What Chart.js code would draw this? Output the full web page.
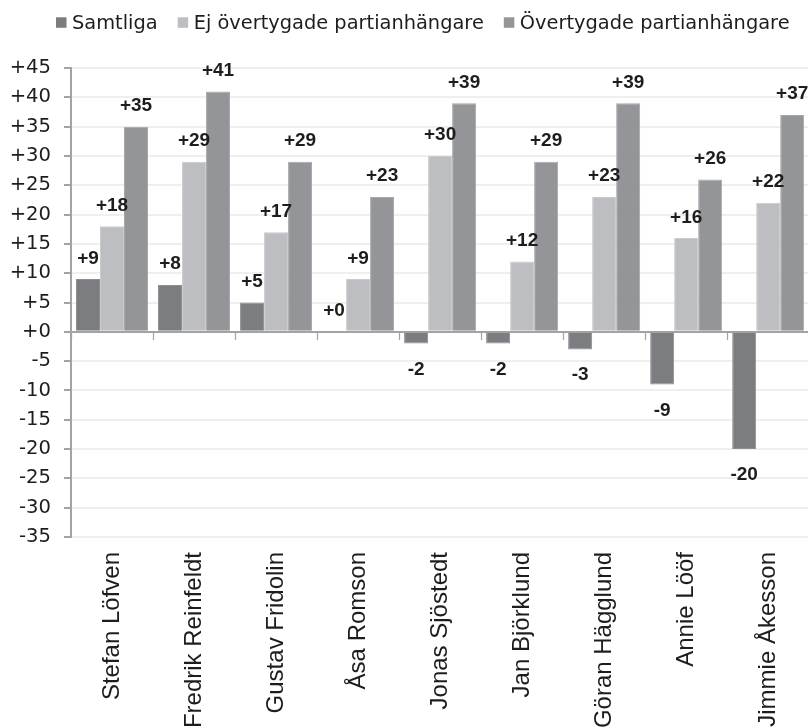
<!DOCTYPE html>
<html><head><meta charset="utf-8">
<script src="https://cdn.jsdelivr.net/npm/chart.js@4/dist/chart.umd.min.js"></script>
<style>html,body{margin:0;padding:0;overflow:hidden;background:#fff;width:808px;height:728px}canvas{display:block}</style>
</head><body>
<canvas id="c" width="812" height="728" style="width:812px;height:728px"></canvas>
<script>
const categories = ["Stefan Löfven","Fredrik Reinfeldt","Gustav Fridolin","Åsa Romson","Jonas Sjöstedt","Jan Björklund","Göran Hägglund","Annie Lööf","Jimmie Åkesson"];
const seriesNames = ["Samtliga","Ej övertygade partianhängare","Övertygade partianhängare"];
const samtliga = [9, 8, 5, 0, -2, -2, -3, -9, -20];
const ejOvertygade = [18, 29, 17, 9, 30, 12, 23, 16, 22];
const overtygade = [35, 41, 29, 23, 39, 29, 39, 26, 37];
const yMin = -35, yMax = 45, yStep = 5;

const fmt = v => (v >= 0 ? '+' + v : '' + v);
const TEXT = '#1f1c1d';
const AXIS = '#a3a3a3';

const topLegend = {
  id: 'topLegend',
  afterDraw(chart) {
    const ctx = chart.ctx;
    ctx.save();
    ctx.font = '19.4px "DejaVu Sans"';
    ctx.textBaseline = 'alphabetic';
    ctx.textAlign = 'left';
    let x = 56;
    const box = 10.5, boxTop = 17.3, base = 28.7;
    chart.data.datasets.forEach(ds => {
      ctx.fillStyle = ds.backgroundColor;
      ctx.fillRect(x, boxTop, box, box);
      x += box + 5.5;
      ctx.fillStyle = TEXT;
      ctx.fillText(ds.label, x, base);
      x += ctx.measureText(ds.label).width + 20;
    });
    ctx.restore();
  }
};

const valueLabels = {
  id: 'valueLabels',
  afterDatasetsDraw(chart) {
    const ctx = chart.ctx;
    ctx.save();
    ctx.font = 'bold 19px "Liberation Sans"';
    ctx.fillStyle = TEXT;
    ctx.textAlign = 'center';
    ctx.textBaseline = 'alphabetic';
    chart.data.datasets.forEach((ds, i) => {
      const meta = chart.getDatasetMeta(i);
      meta.data.forEach((bar, j) => {
        const v = ds.data[j];
        const y = v >= 0 ? bar.y - 15.5 : bar.y + 31;
        ctx.fillText(fmt(v), bar.x, y);
      });
    });
    ctx.restore();
  }
};

new Chart(document.getElementById('c'), {
  type: 'bar',
  data: {
    labels: categories,
    datasets: [
      { label: seriesNames[0], data: samtliga, backgroundColor: '#7c7d81', borderColor: '#8d8e91', borderWidth: 1 },
      { label: seriesNames[1], data: ejOvertygade, backgroundColor: '#bdbec1', borderColor: '#c9cacc', borderWidth: 1 },
      { label: seriesNames[2], data: overtygade, backgroundColor: '#949599', borderColor: '#a6a7aa', borderWidth: 1 }
    ]
  },
  options: {
    responsive: false,
    animation: false,
    devicePixelRatio: 1,
    layout: { padding: { top: 68, left: 0, right: 0, bottom: 0 } },
    datasets: { bar: { categoryPercentage: 0.878, barPercentage: 1 } },
    plugins: { legend: { display: false }, tooltip: { enabled: false } },
    scales: {
      x: {
        type: 'category',
        position: 'bottom',
        offset: true,
        border: { display: false },
        grid: { display: false, drawTicks: false },
        ticks: {
          autoSkip: false, minRotation: 90, maxRotation: 90, padding: 15,
          color: TEXT, font: { family: '"Liberation Sans"', size: 24 }
        },
        afterFit: s => { s.height = 191; }
      },
      x2: {
        type: 'category',
        axis: 'x',
        position: { y: 0 },
        offset: true,
        border: { display: true, color: AXIS, width: 2 },
        grid: { display: true, offset: true, drawOnChartArea: false, drawTicks: true, tickLength: 7, tickColor: AXIS, tickWidth: 1.2, color: AXIS },
        ticks: { display: false }
      },
      y: {
        min: yMin, max: yMax,
        border: { display: true, color: AXIS, width: 2 },
        grid: { color: '#efefef', lineWidth: 2, tickLength: 7, tickColor: AXIS, tickWidth: 2 },
        ticks: {
          stepSize: yStep, padding: 13, color: TEXT,
          font: { family: '"DejaVu Sans"', size: 19.6 },
          callback: v => fmt(v)
        },
        afterFit: s => { s.width = 71; }
      }
    }
  },
  plugins: [topLegend, valueLabels]
});
</script>
</body></html>
